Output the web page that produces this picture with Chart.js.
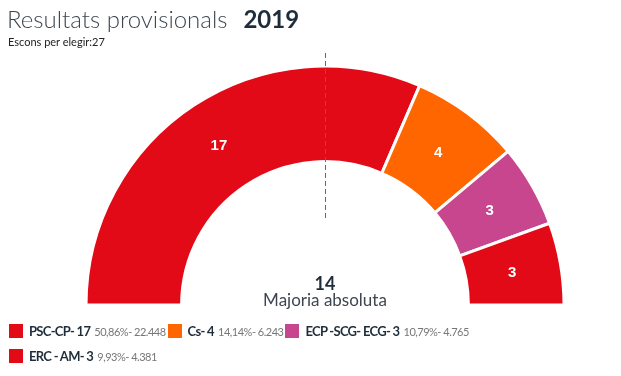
<!DOCTYPE html>
<html>
<head>
<meta charset="utf-8">
<script src="https://cdn.jsdelivr.net/npm/chart.js@4.4.0/dist/chart.umd.min.js"></script>
<style>
  body { margin: 0; background: #fff; font-family: Lato, sans-serif; }
  #wrap { position: relative; width: 621px; height: 376px; overflow: hidden; }
  #myChart { position: absolute; left: 0; top: 0; }
  #title { position: absolute; left: 7px; top: 4px; font-size: 24px; font-weight: 300; color: #3d4650; white-space: nowrap; }
  #title b { font-weight: 700; color: #1f2d3a; margin-left: 16px; }
  #sub { position: absolute; left: 8px; top: 35px; font-size: 11px; color: #222; }
  #legend { position: absolute; left: 9px; top: 320px; width: 610px; }
  .item { display: inline-block; margin-right: 2px; height: 25px; line-height: 20px; white-space: nowrap; }
  .sq { display: inline-block; width: 14px; height: 14px; vertical-align: -2px; margin-right: 6px; }
  .nm { font-size: 13px; font-weight: 700; color: #1f2d3a; letter-spacing: -0.7px; }
  .pc { font-size: 11px; color: #777; letter-spacing: -0.5px; }
</style>
</head>
<body>
<div id="wrap">
  <canvas id="myChart" width="621" height="376"></canvas>
  <div id="title">Resultats provisionals<b>2019</b></div>
  <div id="sub">Escons per elegir:27</div>
  <div id="legend"></div>
</div>
<script>
var parties = ["PSC-CP", "Cs", "ECP -SCG- ECG", "ERC - AM"];
var seats = [17, 4, 3, 3];
var percents = ["50,86%", "14,14%", "10,79%", "9,93%"];
var votes = ["22.448", "6.243", "4.765", "4.381"];
var colors = ["#e30a17", "#ff6600", "#c7468e", "#e30a17"];
var totalSeats = 27;
var majority = 14;

// legend in html, texts have two styles
var legend = document.getElementById("legend");
for (var i = 0; i < parties.length; i++) {
  var el = document.createElement("span");
  el.className = "item";
  el.innerHTML = '<span class="sq" style="background:' + colors[i] + '"></span>' +
    '<span class="nm">' + parties[i] + '- ' + seats[i] + '</span> ' +
    '<span class="pc">' + percents[i] + '- ' + votes[i] + '</span>';
  legend.appendChild(el);
  if (i == 2) legend.appendChild(document.createElement("br"));
}

var extras = {
  id: 'extras',
  afterDatasetsDraw: function(chart) {
    var ctx = chart.ctx;
    var meta = chart.getDatasetMeta(0);
    ctx.save();
    // seat numbers on slices
    ctx.fillStyle = "#fff";
    ctx.font = "bold 15px 'Liberation Sans', Arial, sans-serif";
    ctx.textAlign = "center";
    ctx.textBaseline = "middle";
    meta.data.forEach(function(arc, i) {
      var p = arc.getCenterPoint();
      ctx.fillText(seats[i], p.x - 1, p.y + 1);
    });
    // majority line
    var a = meta.data[0];
    ctx.strokeStyle = "#666";
    ctx.lineWidth = 1;
    ctx.setLineDash([5, 3]);
    ctx.beginPath();
    ctx.moveTo(a.x + 0.5, a.y - a.outerRadius - 13);
    ctx.lineTo(a.x + 0.5, a.y - 85);
    ctx.stroke();
    ctx.setLineDash([]);
    ctx.fillStyle = "#1f2d3a";
    ctx.font = "bold 18px Lato, sans-serif";
    ctx.fillText(majority, a.x, a.y - 21);
    ctx.fillStyle = "#3d4650";
    ctx.font = "17px Lato, sans-serif";
    ctx.fillText("Majoria absoluta", a.x, a.y - 4);
    ctx.restore();
  }
};

var ch = document.getElementById("myChart").getContext("2d");
var myChart = new Chart(ch, {
    type: 'doughnut',
    data: {
      labels: parties,
      datasets: [{
        data: seats,
        backgroundColor: colors,
        borderColor: '#fff',
        borderWidth: 3
      }]
    },
    options: {
      responsive: false,
      animation: false,
      rotation: -90,
      circumference: 180,
      radius: 239,
      cutout: '60%',
      layout: { padding: { left: 86, right: 57, top: 66, bottom: 71 } },
      plugins: {
        legend: { display: false },
        tooltip: { enabled: false }
      }
    },
    plugins: [extras]
});
</script>
</body>
</html>
